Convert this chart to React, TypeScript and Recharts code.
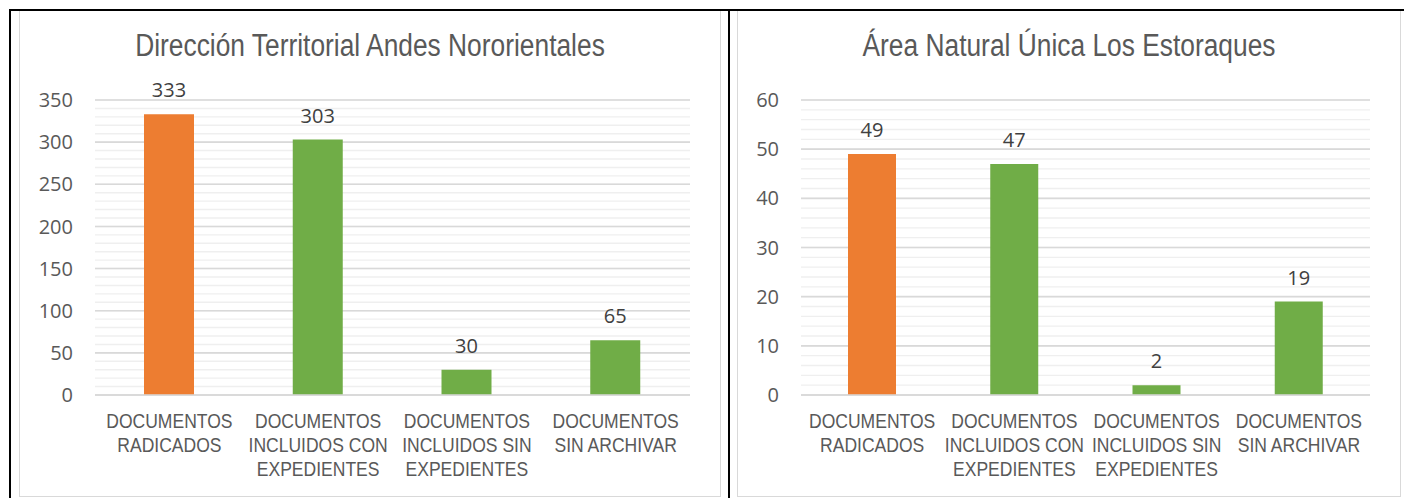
import { BarChart, Bar, XAxis, YAxis, CartesianGrid, LabelList, Cell } from "recharts";

const categories = [
  "DOCUMENTOS\nRADICADOS",
  "DOCUMENTOS\nINCLUIDOS CON\nEXPEDIENTES",
  "DOCUMENTOS\nINCLUIDOS SIN\nEXPEDIENTES",
  "DOCUMENTOS\nSIN ARCHIVAR",
];
const barColors = ["#ED7D31", "#70AD47", "#70AD47", "#70AD47"];

const andesTitle = "Dirección Territorial Andes Nororientales";
const andesValues = [333, 303, 30, 65];
const andesTicks = [0, 50, 100, 150, 200, 250, 300, 350];
const andesMinor = [0, 10, 20, 30, 40, 50, 60, 70, 80, 90, 100, 110, 120, 130, 140, 150, 160, 170, 180, 190, 200, 210, 220, 230, 240, 250, 260, 270, 280, 290, 300, 310, 320, 330, 340, 350];

const estoraquesTitle = "Área Natural Única Los Estoraques";
const estoraquesValues = [49, 47, 2, 19];
const estoraquesTicks = [0, 10, 20, 30, 40, 50, 60];
const estoraquesMinor = [0, 2, 4, 6, 8, 10, 12, 14, 16, 18, 20, 22, 24, 26, 28, 30, 32, 34, 36, 38, 40, 42, 44, 46, 48, 50, 52, 54, 56, 58, 60];

const SANS = "'Liberation Sans', Arial, sans-serif";
const NUM = "'Open Sans', 'Liberation Sans', sans-serif";
const TEXT = "#595959";

function CategoryTick(props: any) {
  const { x, y, payload } = props;
  const lines = String(payload.value).split("\n");
  return (
    <g transform={`translate(${x},${y}) scale(0.835,1)`}>
      <text x={0} y={0} textAnchor="middle" fill={TEXT} fontFamily={SANS} fontSize={21}>
        {lines.map((ln, i) => (
          <tspan key={i} x={0} dy={i === 0 ? 25 : 24}>
            {ln}
          </tspan>
        ))}
      </text>
    </g>
  );
}

function Panel(props: {
  left: number;
  width: number;
  title: string;
  values: number[];
  ticks: number[];
  minor: number[];
  max: number;
  barSize: number;
  marginLeft: number;
}) {
  const data = categories.map((c, i) => ({ name: c, value: props.values[i] }));
  // minor gridlines through the y axis scale
  const minorLines = ({ yAxis, offset }: any) =>
    props.minor.map((v) =>
      yAxis && typeof yAxis.scale === "function"
        ? yAxis.scale(v)
        : offset.top + offset.height * (1 - v / props.max)
    );
  return (
    <div
      style={{
        position: "absolute",
        left: props.left,
        top: 10,
        width: props.width,
        height: 487,
        boxSizing: "border-box",
        borderLeft: "1.5px solid #d9d9d9",
        borderRight: "1.5px solid #d9d9d9",
        borderBottom: "1.5px solid #d9d9d9",
      }}
    >
      <div
        style={{
          position: "absolute",
          left: 0,
          right: 0,
          top: 22,
          textAlign: "center",
          fontFamily: SANS,
          fontSize: 31,
          lineHeight: "28px",
          color: TEXT,
          transform: "scaleX(0.85)",
          transformOrigin: "center",
          whiteSpace: "nowrap",
        }}
      >
        {props.title}
      </div>
      <div style={{ position: "absolute", left: 0, top: 0 }}>
        <BarChart
          width={props.width - 3}
          height={485}
          data={data}
          margin={{ top: 90, right: 29, left: props.marginLeft, bottom: 0 }}
          barCategoryGap="33%"
        >
          <CartesianGrid
            vertical={false}
            horizontalCoordinatesGenerator={minorLines}
            stroke="#efefef"
            strokeWidth={1.4}
          />
          <CartesianGrid vertical={false} stroke="#d9d9d9" strokeWidth={1.6} />
          <XAxis
            dataKey="name"
            tick={<CategoryTick />}
            tickLine={false}
            axisLine={{ stroke: "#d9d9d9", strokeWidth: 1.6 }}
            interval={0}
            height={100}
            tickSize={0}
            tickMargin={8}
          />
          <YAxis
            domain={[0, props.max]}
            ticks={props.ticks}
            tickLine={false}
            axisLine={false}
            width={60}
            tickSize={0}
            tickMargin={22}
            tick={{ fill: TEXT, fontSize: 20, fontFamily: NUM }}
          />
          <Bar dataKey="value" barSize={props.barSize} isAnimationActive={false}>
            {data.map((d, i) => (
              <Cell key={d.name} fill={barColors[i]} />
            ))}
            <LabelList
              dataKey="value"
              position="top"
              offset={17}
              fill="#404040"
              fontSize={20}
              fontFamily={NUM}
            />
          </Bar>
        </BarChart>
      </div>
    </div>
  );
}

export default function App() {
  return (
    <div style={{ position: "absolute", left: 0, top: 0, width: 1404, height: 498, background: "#fff", overflow: "hidden" }}>
      <Panel
        left={19}
        width={702}
        title={andesTitle}
        values={andesValues}
        ticks={andesTicks}
        minor={andesMinor}
        max={350}
        barSize={50}
        marginLeft={15}
      />
      <Panel
        left={737}
        width={664}
        title={estoraquesTitle}
        values={estoraquesValues}
        ticks={estoraquesTicks}
        minor={estoraquesMinor}
        max={60}
        barSize={48}
        marginLeft={3}
      />
      <div style={{ position: "absolute", left: 9, top: 9, width: 1395, height: 2, background: "#000" }} />
      <div style={{ position: "absolute", left: 9, top: 9, width: 2, height: 489, background: "#000" }} />
      <div style={{ position: "absolute", left: 728, top: 9, width: 2, height: 489, background: "#000" }} />
    </div>
  );
}
